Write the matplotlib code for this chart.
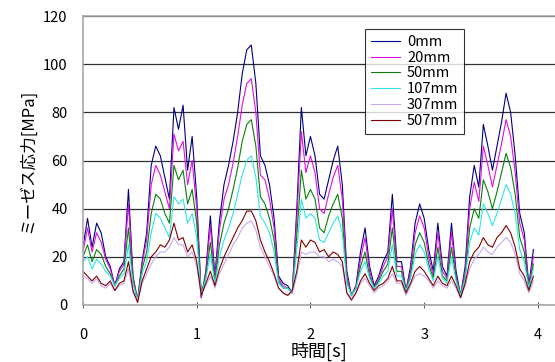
import numpy as np
import matplotlib
matplotlib.use('Agg')
import matplotlib.pyplot as plt

plt.rcParams['font.family'] = ['Noto Sans CJK JP', 'DejaVu Sans']

# time axis, one sample every 0.04 s
dt = 0.04
labels = ['0mm', '20mm', '50mm', '107mm', '307mm', '507mm']
colors = ['#000080', '#e010e0', '#0a800a', '#30e4e4', '#c8a8ec', '#800000']

s0 = [24, 36, 24, 34, 30, 20, 16, 8, 15, 18,
      48, 12, 2, 18, 30, 58, 66, 62, 53, 44,
      82, 73, 83, 56, 70, 45, 3, 14, 37, 12,
      35, 50, 58, 68, 80, 96, 106, 108, 92, 62,
      58, 50, 36, 12, 9, 8, 5, 40, 82, 62,
      70, 62, 46, 44, 52, 60, 66, 50, 14, 4,
      8, 22, 32, 16, 8, 12, 18, 22, 46, 18,
      18, 6, 16, 34, 42, 36, 23, 14, 34, 16,
      12, 34, 14, 4, 16, 45, 58, 49, 75, 66,
      56, 66, 76, 88, 80, 62, 38, 30, 8, 23]
s20 = [22, 32, 22, 30, 26, 19, 15, 8, 14, 17,
       42, 11, 2, 17, 27, 50, 58, 54, 47, 40,
       71, 64, 68, 50, 60, 40, 3, 13, 33, 11,
       31, 44, 50, 59, 70, 83, 92, 94, 80, 54,
       52, 44, 32, 11, 8, 7, 5, 36, 72, 55,
       62, 55, 40, 38, 46, 53, 58, 44, 12, 4,
       7, 19, 28, 14, 7, 11, 16, 20, 40, 16,
       16, 6, 14, 30, 37, 32, 20, 12, 30, 14,
       11, 30, 12, 4, 14, 40, 51, 43, 66, 58,
       49, 58, 67, 77, 70, 55, 34, 27, 7, 20]
s50 = [20, 25, 18, 23, 21, 16, 13, 8, 12, 15,
       32, 10, 2, 15, 22, 38, 46, 44, 38, 34,
       58, 52, 56, 42, 48, 34, 4, 12, 26, 10,
       25, 34, 40, 48, 57, 68, 75, 77, 66, 45,
       42, 36, 27, 10, 7, 7, 5, 29, 56, 44,
       48, 44, 32, 30, 37, 42, 46, 36, 10, 4,
       7, 16, 22, 12, 7, 10, 14, 17, 32, 14,
       14, 6, 12, 25, 30, 26, 17, 11, 24, 12,
       10, 24, 11, 4, 12, 32, 40, 36, 52, 47,
       40, 47, 55, 63, 57, 46, 28, 22, 7, 17]
s107 = [18, 20, 15, 19, 17, 14, 12, 8, 11, 13,
        25, 9, 2, 13, 18, 30, 38, 36, 32, 28,
        45, 42, 44, 34, 38, 28, 4, 11, 21, 9,
        20, 27, 32, 38, 46, 54, 60, 62, 53, 37,
        34, 30, 22, 9, 7, 7, 5, 23, 44, 36,
        38, 36, 27, 26, 30, 34, 37, 30, 9, 4,
        7, 14, 18, 11, 7, 9, 12, 14, 25, 12,
        12, 6, 11, 21, 25, 22, 15, 10, 20, 11,
        9, 20, 10, 4, 11, 26, 32, 29, 42, 38,
        33, 38, 44, 50, 46, 38, 23, 18, 7, 15]
s307 = [12, 11, 9, 11, 8, 7, 9, 6, 8, 9,
        15, 5, 2, 9, 13, 17, 20, 22, 22, 24,
        28, 25, 25, 20, 22, 16, 4, 8, 12, 7,
        13, 17, 21, 25, 28, 32, 34, 35, 31, 24,
        20, 16, 12, 7, 5, 4, 5, 12, 22, 21,
        22, 22, 20, 20, 18, 19, 18, 16, 5, 3,
        5, 9, 11, 8, 5, 7, 8, 10, 13, 9,
        9, 4, 8, 12, 13, 12, 10, 7, 10, 8,
        7, 10, 7, 3, 8, 15, 19, 21, 24, 22,
        21, 24, 26, 28, 26, 21, 13, 10, 5, 10]
s507 = [14, 12, 10, 12, 9, 8, 10, 6, 9, 10,
        18, 6, 1, 10, 15, 20, 22, 25, 24, 27,
        34, 27, 28, 22, 25, 18, 4, 9, 14, 8,
        15, 20, 24, 28, 32, 35, 39, 39, 35, 27,
        22, 18, 13, 7, 5, 4, 6, 14, 27, 24,
        27, 26, 22, 23, 20, 22, 21, 18, 5, 2,
        5, 10, 13, 9, 6, 8, 9, 11, 16, 10,
        10, 5, 9, 14, 16, 14, 11, 8, 12, 9,
        8, 12, 8, 3, 9, 18, 22, 24, 28, 25,
        24, 28, 30, 33, 30, 24, 15, 12, 6, 12]

series = [s0, s20, s50, s107, s307, s507]
t = np.arange(len(s0)) * dt

fig = plt.figure(figsize=(5.55, 3.62), dpi=100)
ax = fig.add_axes([0.1495, 0.1575, 0.8505, 0.798])

for s, lab, c in zip(series, labels, colors):
    ax.plot(t, s, color=c, lw=0.8, label=lab)

ax.set_xlim(0, 4.15)
ax.set_ylim(0, 120)
ax.set_xticks([0, 1, 2, 3, 4])
ax.set_yticks(np.arange(0, 121, 20))
ax.yaxis.grid(True, color='#303030', lw=0.9)
ax.set_axisbelow(True)

for side in ['left', 'bottom', 'top']:
    ax.spines[side].set_color('#a8a8a8')
    ax.spines[side].set_linewidth(1.2)
ax.spines['right'].set_visible(False)

ax.tick_params(axis='y', length=0, pad=11, labelsize=10.5)
ax.tick_params(axis='x', direction='inout', length=5, color='#606060',
               pad=14, labelsize=10.5)

ax.set_ylabel('ミーゼス応力[MPa]', fontsize=12, labelpad=5)
ax.set_xlabel('時間[s]', fontsize=13, labelpad=0)

leg = ax.legend(loc='upper left', bbox_to_anchor=(0.597, 0.955),
                frameon=True, fancybox=False, fontsize=10.5,
                handlelength=2.0, handletextpad=0.5, labelspacing=0.12,
                borderpad=0.4, borderaxespad=0)
leg.get_frame().set_edgecolor('black')
leg.get_frame().set_linewidth(0.8)

fig.savefig('out.png', dpi=100)
